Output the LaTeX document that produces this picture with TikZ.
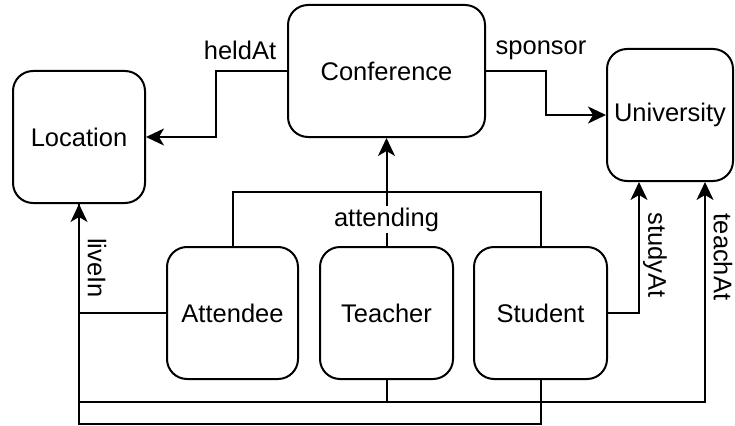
\documentclass[tikz,border=0pt]{standalone}
\usepackage{fontspec}
\setmainfont{Liberation Sans}
\usetikzlibrary{arrows.meta}

\begin{document}
\begin{tikzpicture}[x=1pt,y=-1pt,line width=2pt,>={Stealth[length=18pt,width=17pt,inset=5pt]},
  font=\fontsize{25.5pt}{30pt}\selectfont,
  box/.style={draw,rounded corners=20pt,minimum height=132pt,inner sep=0pt},
  lbl/.style={inner sep=1pt}]
\useasboundingbox (0,0) rectangle (735,425);
% classes
\node[box,minimum width=132pt] (loc)   at (79,137)    {Location};
\node[box,minimum width=197pt] (conf)  at (386.5,71)  {Conference};
\node[box,minimum width=126pt] (univ)  at (670,115)   {University};
\node[box,minimum width=131pt] (att)   at (232.5,313) {Attendee};
\node[box,minimum width=133pt] (teach) at (386.5,313) {Teacher};
\node[box,minimum width=133pt] (stud)  at (540.5,313) {Student};
% relations of the conference
\draw[->] (conf.west) -- ++(-71,0) |- (loc.east);
\node[lbl] (heldat) at (240,50) {heldAt};
\draw[->] (conf.east) -- ++(60,0) |- (univ.west);
\node[lbl] (sponsor) at (541,50) {sponsor};
% attending (shared bar)
\draw (att.north) -- ++(0,-54) -| (stud.north);
\draw[->] (teach.north) -- (conf.south)
  node[pos=0.245,fill=white,inner sep=2pt] (attending) {attending};
% liveIn, studyAt, teachAt
\draw (teach.south) -- ++(0,22) -| (loc.south);
\draw (stud.south) -- ++(0,44) -| (loc.south);
\draw[->] (att.west) -| (loc.south);
\node[lbl,rotate=-90] (livein) at (97,268) {liveIn};
\draw[->] (stud.east) -| ([xshift=-31pt]univ.south);
\node[lbl,rotate=-90] (studyat) at (655,255) {studyAt};
\draw[->] (teach.south) -- ++(0,22) -| ([xshift=35pt]univ.south);
\node[lbl,rotate=-90,inner sep=0pt] (teachat) at (723,257) {teachAt};
\end{tikzpicture}
\end{document}
